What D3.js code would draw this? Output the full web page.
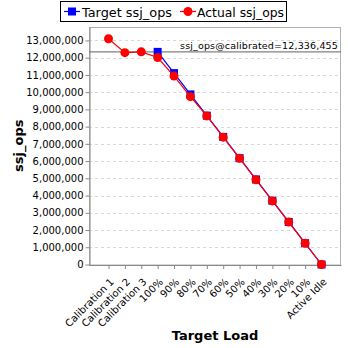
<!DOCTYPE html>
<html>
<head>
<meta charset="utf-8">
<script src="https://cdn.jsdelivr.net/npm/d3@7"></script>
<style>
  body { margin: 0; background: #fff; }
  svg { display: block; }
  text { font-family: "DejaVu Sans", sans-serif; }
</style>
</head>
<body>
<svg id="chart" width="348" height="348"></svg>
<script>
const categories = ["Calibration 1", "Calibration 2", "Calibration 3", "100%", "90%", "80%", "70%", "60%", "50%", "40%", "30%", "20%", "10%", "Active Idle"];
const targetOps = [null, null, null, 12336455, 11102810, 9869164, 8635519, 7401873, 6168228, 4934582, 3700937, 2467291, 1233646, 0];
const actualOps = [13100000, 12290000, 12340000, 12010000, 10930000, 9740000, 8620000, 7390000, 6160000, 4920000, 3690000, 2460000, 1230000, 0];
const calibrated = 12336455;
const yTicks = [0, 1000000, 2000000, 3000000, 4000000, 5000000, 6000000, 7000000, 8000000, 9000000, 10000000, 11000000, 12000000, 13000000];

const svg = d3.select("#chart");
const plotL = 89, plotR = 341, plotT = 27, plotB = 264.5;

const x = d3.scalePoint().domain(categories).range([plotL, plotR]).padding(1.19);
const y = d3.scaleLinear().domain([0, 13780000]).range([plotB, plotT]);
const fmt = d3.format(",");

// horizontal dashed grid
svg.append("g").selectAll("line").data(yTicks).join("line")
  .attr("x1", plotL).attr("x2", plotR)
  .attr("y1", d => Math.round(y(d)) + 0.5).attr("y2", d => Math.round(y(d)) + 0.5)
  .attr("stroke", "#d8d8d8").attr("stroke-dasharray", "3,3");

// plot frame
svg.append("rect").attr("x", plotL + 0.5).attr("y", plotT + 0.5)
  .attr("width", plotR - plotL - 1).attr("height", plotB - plotT)
  .attr("fill", "none").attr("stroke", "#b0b0b0");

// y axis
const yAxis = svg.append("g").attr("transform", `translate(${plotL + 0.5},0)`)
  .call(d3.axisLeft(y).tickValues(yTicks).tickFormat(fmt).tickSize(4).tickSizeOuter(0));
yAxis.select(".domain").attr("stroke", "#888");
yAxis.selectAll(".tick line").attr("stroke", "#888");
yAxis.selectAll(".tick text").attr("font-size", 10).attr("fill", "#000")
  .attr("font-family", "DejaVu Sans, sans-serif").attr("x", -6);

// x axis
const xAxis = svg.append("g").attr("transform", `translate(0,${plotB + 0.5})`)
  .call(d3.axisBottom(x).tickSize(4).tickSizeOuter(0));
xAxis.select(".domain").attr("stroke", "#888");
xAxis.selectAll(".tick line").attr("stroke", "#888");
xAxis.selectAll(".tick text").attr("font-size", 10).attr("fill", "#000")
  .attr("font-family", "DejaVu Sans, sans-serif")
  .attr("text-anchor", "end").attr("dy", "0.35em")
  .attr("transform", "translate(3,15) rotate(-45)").attr("y", 0).attr("x", 0);

// calibrated reference line
svg.append("line").attr("x1", plotL).attr("x2", plotR)
  .attr("y1", y(calibrated)).attr("y2", y(calibrated))
  .attr("stroke", "#808080").attr("stroke-width", 1.2);
svg.append("text").attr("x", plotR - 3).attr("y", y(calibrated) - 3)
  .attr("text-anchor", "end").attr("font-size", 9.5).attr("letter-spacing", 0.15).attr("fill", "#000")
  .text("ssj_ops@calibrated=" + fmt(calibrated));

// series
const tIdx = categories.map((c, i) => i).filter(i => targetOps[i] !== null);
const aIdx = categories.map((c, i) => i);

svg.append("path")
  .attr("d", d3.line().x(i => x(categories[i])).y(i => y(targetOps[i]))(tIdx))
  .attr("fill", "none").attr("stroke", "#0000ff").attr("stroke-width", 1.2);
svg.append("g").selectAll("rect").data(tIdx).join("rect")
  .attr("x", i => x(categories[i]) - 4).attr("y", i => y(targetOps[i]) - 4)
  .attr("width", 8).attr("height", 8).attr("fill", "#0000ff");

svg.append("path")
  .attr("d", d3.line().x(i => x(categories[i])).y(i => y(actualOps[i]))(aIdx))
  .attr("fill", "none").attr("stroke", "#ff0000").attr("stroke-width", 1.2);
svg.append("g").selectAll("circle").data(aIdx).join("circle")
  .attr("cx", i => x(categories[i])).attr("cy", i => y(actualOps[i]))
  .attr("r", 4.5).attr("fill", "#ff0000");

// axis titles
svg.append("text").attr("x", (plotL + plotR) / 2).attr("y", 340)
  .attr("text-anchor", "middle").attr("font-size", 13).attr("font-weight", "bold")
  .text("Target Load");
svg.append("text").attr("transform", `translate(23,${(plotT + plotB) / 2}) rotate(-90)`)
  .attr("text-anchor", "middle").attr("font-size", 13).attr("font-weight", "bold")
  .text("ssj_ops");

// legend
const lg = svg.append("g");
lg.append("rect").attr("x", 60.5).attr("y", 1.5).attr("width", 226).attr("height", 20)
  .attr("fill", "#fff").attr("stroke", "#000");
lg.append("line").attr("x1", 64).attr("x2", 80).attr("y1", 11.5).attr("y2", 11.5)
  .attr("stroke", "#0000ff").attr("stroke-width", 1.2);
lg.append("rect").attr("x", 68).attr("y", 7.5).attr("width", 8).attr("height", 8).attr("fill", "#0000ff");
lg.append("text").attr("x", 82).attr("y", 16.5).attr("font-size", 12.5)
  .attr("textLength", 90).attr("lengthAdjust", "spacingAndGlyphs").text("Target ssj_ops");
lg.append("line").attr("x1", 180).attr("x2", 196).attr("y1", 11.5).attr("y2", 11.5)
  .attr("stroke", "#ff0000").attr("stroke-width", 1.2);
lg.append("circle").attr("cx", 188).attr("cy", 11.5).attr("r", 4.5).attr("fill", "#ff0000");
lg.append("text").attr("x", 197).attr("y", 16.5).attr("font-size", 12.5)
  .attr("textLength", 87).attr("lengthAdjust", "spacingAndGlyphs").text("Actual ssj_ops");
</script>
</body>
</html>
